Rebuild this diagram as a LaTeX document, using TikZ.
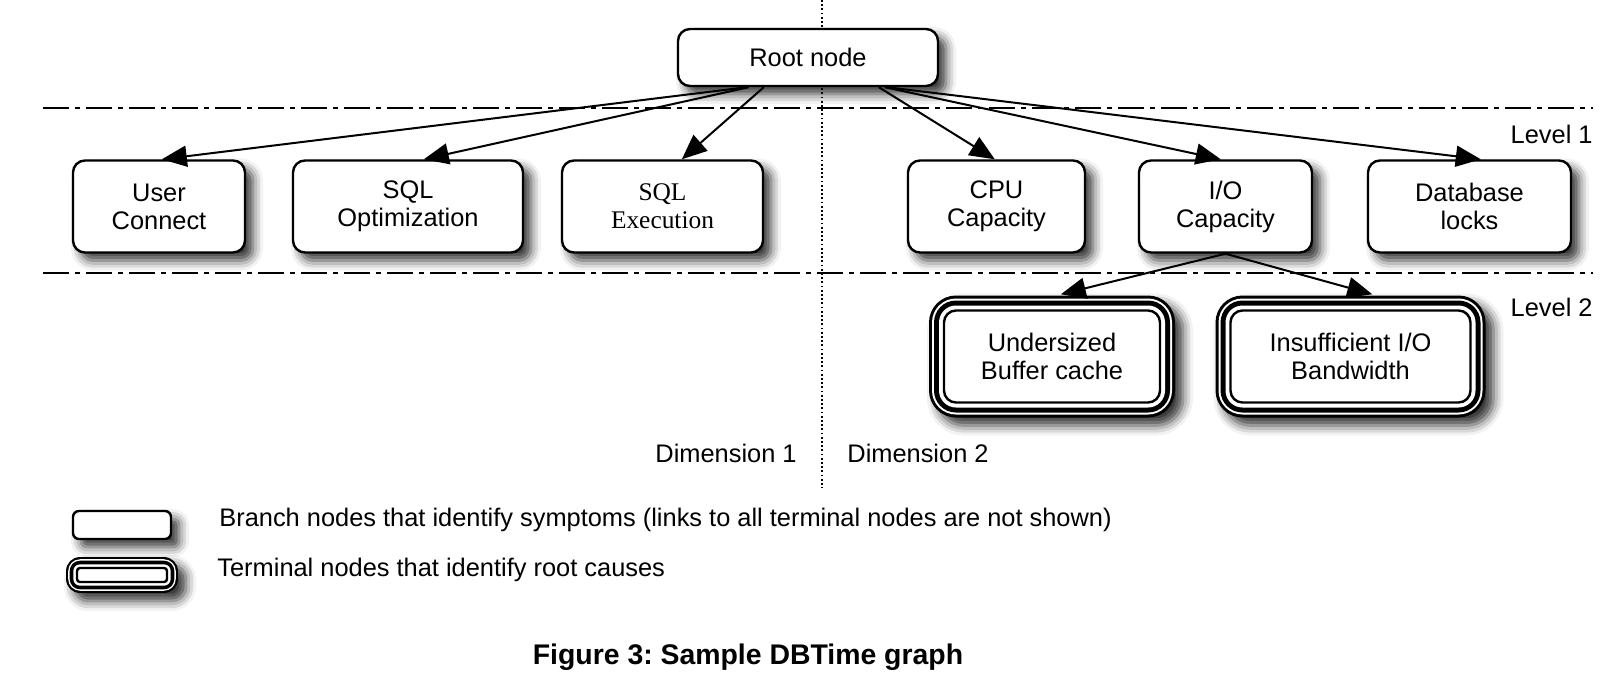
\documentclass[tikz,border=0pt]{standalone}
\usepackage{fontspec}
\setmainfont{Liberation Sans}
\newfontfamily\seriffont{Liberation Serif}
\usetikzlibrary{arrows.meta,calc,shadows.blur}
\frenchspacing
\tikzset{
  shad/.style={blur shadow={shadow xshift=4pt,shadow yshift=-4pt,shadow blur radius=5pt,shadow opacity=80}},
  branch/.style={draw=black,line width=1.2pt,fill=white,rectangle,rounded corners=6pt,
    inner sep=0pt,align=center,font=\fontsize{12.7}{14}\selectfont,shad},
  termbox/.style={draw=black,line width=1.2pt,fill=white,rectangle,rounded corners=6pt,
    inner sep=0pt,align=center,font=\fontsize{12.7}{14}\selectfont},
  arr/.style={line width=1pt,draw=black,-{Triangle[length=12.5pt,width=10.5pt,fill=black]}},
  levelline/.style={line width=1pt,dash pattern=on 13pt off 3pt on 2.5pt off 3pt},
  dimline/.style={line width=0.9pt,dash pattern=on 0.9pt off 1.2pt},
  lbl/.style={font=\fontsize{12.7}{14}\selectfont,inner sep=0pt}
}
% terminal node with rings
% #1 name, #2 centre, #3 half width (px), #4 half height (px), #5 ring scale, #6 inner radius (pt), #7 text
\newcommand\termnode[7]{%
  \coordinate (#1-c) at #2;
  \begin{scope}
  \fill[black,shad,rounded corners={#6+7.5pt*#5}] ([shift={(-#3-15*#5,#4+15*#5)}]#1-c) rectangle ([shift={(#3+15*#5,-#4-15*#5)}]#1-c);
  \end{scope}
  \begin{scope}
  \fill[white,rounded corners={#6+6pt*#5}] ([shift={(-#3-12*#5,#4+12*#5)}]#1-c) rectangle ([shift={(#3+12*#5,-#4-12*#5)}]#1-c);
  \fill[black,rounded corners={#6+5pt*#5}] ([shift={(-#3-10*#5,#4+10*#5)}]#1-c) rectangle ([shift={(#3+10*#5,-#4-10*#5)}]#1-c);
  \fill[white,rounded corners={#6+2.5pt*#5}] ([shift={(-#3-5*#5,#4+5*#5)}]#1-c) rectangle ([shift={(#3+5*#5,-#4-5*#5)}]#1-c);
  \end{scope}
  \node[termbox,minimum width=#3pt,minimum height=#4pt,rounded corners=#6] (#1) at (#1-c) {#7};}
\begin{document}
\begin{tikzpicture}[x=0.5pt,y=-0.5pt]
\useasboundingbox (0,0) rectangle (1622,686);

% dimension divider and level lines
\draw[dimline] (822,0) -- (822,488);
\draw[levelline] (43,108) -- (1593,108);
\draw[levelline] (43,273) -- (1593,273);

% root
\node[branch,minimum width=130pt,minimum height=28.5pt] (root) at (808,57.5) {Root node};

% level 1
\node[branch,minimum width=86pt,minimum height=46pt] (user) at (159,206.5) {User\\Connect};
\node[branch,minimum width=115pt,minimum height=46pt] (sqlopt) at (408,206.5) {SQL\\Optimization};
\node[branch,minimum width=100.5pt,minimum height=46pt,font=\seriffont\fontsize{12.7}{14}\selectfont] (sqlexec) at (662.5,206.5) {SQL\\Execution};
\node[branch,minimum width=88.5pt,minimum height=46pt] (cpu) at (996.5,206.5) {CPU\\Capacity};
\node[branch,minimum width=86.5pt,minimum height=46pt] (io) at (1225.5,206.5) {I/O\\Capacity};
\node[branch,minimum width=101.5pt,minimum height=46pt] (db) at (1469.5,206.5) {Database\\locks};

% level 2
\termnode{under}{(1052,356.5)}{108}{46}{1}{6pt}{Undersized\\Buffer cache}
\termnode{insuf}{(1350.5,356.5)}{120}{46}{1}{6pt}{Insufficient I/O\\Bandwidth}

% connectors
\draw[arr] ($(root.south west)+(70,0)$) -- ($(user.north west)+(90,0)$);
\draw[arr] ($(root.south west)+(72,0)$) -- ($(sqlopt.north west)+(132,0)$);
\draw[arr] ($(root.south west)+(87,0)$) -- ($(sqlexec.north west)+(121,0)$);
\draw[arr] ($(root.south west)+(202,0)$) -- ($(cpu.north west)+(88,0)$);
\draw[arr] ($(root.south west)+(208,0)$) -- ($(io.north west)+(83,0)$);
\draw[arr] ($(root.south west)+(210,0)$) -- ($(db.north west)+(114,0)$);
\draw[arr] (io.south) -- ($(under.north west)+(118,-15)$);
\draw[arr] (io.south) -- ($(insuf.north west)+(143,-15)$);

% labels
\node[lbl,anchor=east] (lv1) at (1593,134) {Level 1};
\node[lbl,anchor=east] (lv2) at (1593,307) {Level 2};
\node[lbl,anchor=east] (dim1) at (797,453) {Dimension 1};
\node[lbl,anchor=west] (dim2) at (847,453) {Dimension 2};

% legend
\node[branch,minimum width=49pt,minimum height=14pt,rounded corners=3pt] (legb) at (122,525) {};
\termnode{legt}{(122,575)}{45}{7}{0.73}{1.5pt}{}
\node[lbl,anchor=west] (legbt) at (219,520) {Branch nodes that identify symptoms (links to all terminal nodes are not shown)};
\node[lbl,anchor=west] (legtt) at (217,570) {Terminal nodes that identify root causes};

% caption
\node[inner sep=0pt,font=\fontsize{14.2}{16}\selectfont\bfseries] (cap) at (748,657) {Figure 3: Sample DBTime graph};
\end{tikzpicture}
\end{document}
